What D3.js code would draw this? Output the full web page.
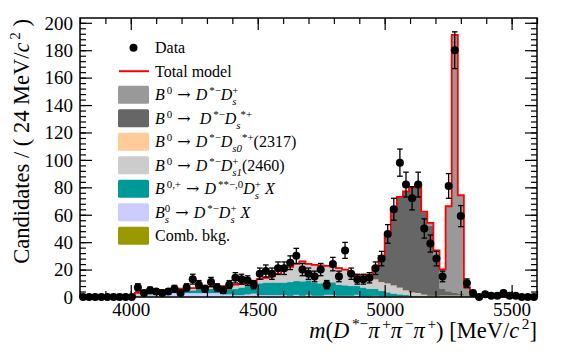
<!DOCTYPE html>
<html lang="en">
<head>
<meta charset="UTF-8">
<title>m(D*- pi+ pi- pi+) fit</title>
<style>
  body { margin: 0; background: #fff; }
  svg { display: block; font-family: "Liberation Serif", "DejaVu Serif", serif; }
  text { fill: #000; }
</style>
</head>
<body>
<svg id="chart" width="565" height="353"></svg>
<script src="https://cdnjs.cloudflare.com/ajax/libs/d3/7.8.5/d3.min.js"></script>
<script>
'use strict';

// binning: 75 bins of 24 MeV from 3800 to 5600
const massLo = 3800, binWidth = 24, nBins = 75;
const xTicks = [4000, 4500, 5000, 5500];

// data counts per bin
const dataCounts = [
  0, 0, 0, 0, 0, 0, 0, 0, 0, 7, 3, 5, 4, 3, 4,
  6, 3, 7, 13, 9, 6, 11, 7, 5, 9, 14, 13, 12, 9, 17,
  19, 17, 21, 21, 25, 30, 20, 17, 15, 20, 9, 24, 15, 34, 17,
  13, 13, 14, 21, 28, 46, 64, 98, 82, 72, 82, 50, 39, 28, 15,
  81, 180, 59, 10, 3, 0, 2, 1, 1, 3, 1, 1, 0, 0, 0
];

// fit components (stacked, bottom first)
const combBkg = [
  0, 0, 0, 0, 0, 0, 0, 0, 0, 0, 0, 0, 0, 0, 0,
  0, 0, 0, 0, 0, 0, 0, 0, 0, 0, 0, 0, 0.5, 1, 0,
  0, 0, 0, 0, 0, 0.7, 0, 0.7, 0, 0, 0.7, 0.7, 0, 0, 0,
  0.7, 0, 0, 0.5, 0, 0, 0, 0, 0, 0, 0, 0, 0, 0, 0.7,
  0.7, 0.7, 0.7, 0, 0, 0.3, 0.3, 0.3, 0.3, 0.3, 0.3, 0.3, 0.3, 0.3, 0.3
];
const bsDstDsX = [
  0, 0, 0, 0, 0, 0, 0, 0, 0, 1, 1.5, 1.5, 2, 2, 3,
  3, 3, 3, 3, 3, 3, 3, 3, 2, 2, 1.5, 1.5, 1.5, 1.5, 1.5,
  1.5, 1.5, 1.5, 1.5, 1, 1, 1, 1, 1, 1, 1, 1, 1, 1, 1,
  1, 0.5, 0.5, 0.5, 0.5, 0.5, 0.5, 0.5, 0.5, 0.5, 0.5, 0.5, 0.5, 0.5, 0.5,
  0.5, 0.5, 0.5, 0.5, 0.5, 0, 0, 0, 0, 0, 0, 0, 0, 0, 0
];
const dssDsX = [
  0, 0, 0, 0, 0, 0, 0, 0, 0, 0, 0, 0.5, 0.5, 0.5, 1,
  1, 1.5, 2, 2, 2.5, 3, 3, 3, 3.5, 3.5, 4.5, 5.5, 6, 6.5, 8.5,
  9, 9, 9, 9, 10, 10, 10.5, 10.5, 9.5, 9, 8.5, 9, 8, 7.5, 7,
  6.5, 6.5, 5.5, 5, 4, 3, 2, 1.5, 1, 0.5, 0.5, 0, 0, 0, 0,
  0, 0, 0, 0, 0, 0, 0, 0, 0, 0, 0, 0, 0, 0, 0
];
const dstDs1 = [
  0, 0, 0, 0, 0, 0, 0, 0, 0, 2, 2.5, 2, 2, 2.5, 1,
  1.5, 1.5, 1, 1.5, 1.5, 1, 1.5, 2, 2.5, 3, 3, 2.5, 2, 2, 3,
  3.5, 4.5, 6.5, 9.5, 11, 12.5, 14.5, 12, 13, 13, 12.5, 11.5, 12, 11.5, 9,
  8, 8, 8, 6.5, 6, 6, 5.5, 4.5, 3, 2, 1.5, 1, 0.5, 0.5, 0,
  0, 0, 0, 0, 0, 0, 0, 0, 0, 0, 0, 0, 0, 0, 0
];
const dstDs0 = [
  0, 0, 0, 0, 0, 0, 0, 0, 0, 0, 0, 0, 0, 0, 0,
  0, 0, 0, 0, 0, 0, 0, 0, 0, 0, 0, 0, 0, 0, 0,
  0, 0, 0, 0, 0, 0, 0, 0, 0, 0, 0, 0, 0, 0, 0,
  0, 0, 0.3, 0.5, 0.5, 0.5, 0.5, 0.5, 0.5, 0.5, 0.5, 0.3, 0, 0, 0,
  0, 0, 0, 0, 0, 0, 0, 0, 0, 0, 0, 0, 0, 0, 0
];
const dstDsStar = [
  0, 0, 0, 0, 0, 0, 0, 0, 0, 0, 0, 0, 0, 0, 0,
  0, 0, 0, 0, 0, 0, 0, 0, 0, 0, 0, 0, 0, 0, 0,
  0, 0, 0, 0, 0, 0, 0, 0, 0, 0, 0, 0, 0, 0, 0,
  0, 0, 2, 9, 19, 35, 56.5, 66, 72, 76.5, 79, 60, 51, 28, 5,
  3, 2, 1, 0, 0, 0, 0, 0, 0, 0, 0, 0, 0, 0, 0
];
const dstDs = [
  0, 0, 0, 0, 0, 0, 0, 0, 0, 0, 0, 0, 0, 0, 0,
  0, 0, 0, 0, 0, 0, 0, 0, 0, 0, 0, 0, 0, 0, 0,
  0, 0, 0, 0, 0, 0, 0, 0, 0, 0, 0, 0, 0, 0, 0,
  0, 0, 0, 0, 0, 0, 0, 0, 0, 0, 0, 0.5, 2, 5, 14,
  62, 188, 72, 6.5, 1.5, 0, 0, 0, 0, 0, 0, 0, 0, 0, 0
];

const keys = ["comb", "bsx", "dssx", "ds1", "ds0", "dsst", "ds"];
const colors = {
  comb: "#999900", bsx: "#ccccff", dssx: "#009999", ds1: "#cccccc",
  ds0: "#ffcc99", dsst: "#666666", ds: "#999999"
};

const svg = d3.select("#chart");
const x = d3.scaleLinear().domain([massLo, massLo + nBins * binWidth]).range([80, 537]);
const y = d3.scaleLinear().domain([0, 203.5]).range([297, 18]);

const rows = d3.range(nBins).map(i => ({
  i,
  comb: combBkg[i], bsx: bsDstDsX[i], dssx: dssDsX[i], ds1: dstDs1[i],
  ds0: dstDs0[i], dsst: dstDsStar[i], ds: dstDs[i]
}));
const layers = d3.stack().keys(keys)(rows);

// turn a layer into step points at the bin edges
function steps(layer) {
  const out = [];
  layer.forEach((d, i) => {
    const lo = massLo + i * binWidth;
    out.push({ m: lo, y0: d[0], y1: d[1] });
    out.push({ m: lo + binWidth, y0: d[0], y1: d[1] });
  });
  return out;
}

const area = d3.area().x(d => x(d.m)).y0(d => y(d.y0)).y1(d => y(d.y1));

svg.append("g").selectAll("path")
  .data(layers)
  .join("path")
  .attr("d", l => area(steps(l)))
  .attr("fill", l => colors[l.key])
  .attr("stroke", l => colors[l.key])
  .attr("stroke-width", 0.3);

// total model outline
const topPts = steps(layers[layers.length - 1]);
const totalPts = [{ m: massLo, y1: 0 }, ...topPts, { m: massLo + nBins * binWidth, y1: 0 }];
svg.append("path")
  .attr("d", d3.line().x(d => x(d.m)).y(d => y(d.y1))(totalPts))
  .attr("fill", "none")
  .attr("stroke", "#ff0000")
  .attr("stroke-width", 1.8);

// data points
const pts = dataCounts.map((v, i) => ({ m: massLo + (i + 0.5) * binWidth, v }));
const gData = svg.append("g");
const withErr = pts.filter(d => d.v > 0);
gData.selectAll("line.err")
  .data(withErr)
  .join("line")
  .attr("class", "err")
  .attr("x1", d => x(d.m)).attr("x2", d => x(d.m))
  .attr("y1", d => y(d.v - Math.sqrt(d.v))).attr("y2", d => y(d.v + Math.sqrt(d.v)))
  .attr("stroke", "#000").attr("stroke-width", 1.3);
["lo", "hi"].forEach(side => {
  gData.selectAll("line.cap" + side)
    .data(withErr)
    .join("line")
    .attr("class", "cap" + side)
    .attr("x1", d => x(d.m) - 2.8).attr("x2", d => x(d.m) + 2.8)
    .attr("y1", d => y(side === "lo" ? d.v - Math.sqrt(d.v) : d.v + Math.sqrt(d.v)))
    .attr("y2", d => y(side === "lo" ? d.v - Math.sqrt(d.v) : d.v + Math.sqrt(d.v)))
    .attr("stroke", "#000").attr("stroke-width", 1.3);
});
gData.selectAll("circle")
  .data(pts)
  .join("circle")
  .attr("cx", d => x(d.m)).attr("cy", d => y(d.v))
  .attr("r", 4).attr("fill", "#000");

// axes, ROOT style with ticks inside the frame
function tidy(g) {
  g.attr("font-family", null).attr("font-size", null);
  g.select(".domain").remove();
  g.selectAll(".tick line").attr("stroke", "#000").attr("stroke-width", 1.2);
}
const xMinor = d3.range(3800, 5601, 100);
const yMajor = d3.range(0, 201, 20);
const yMinor = d3.range(0, 204, 4);

svg.append("g").attr("transform", "translate(0,297)")
  .call(d3.axisBottom(x).tickValues(xMinor).tickSize(-6).tickFormat("")).call(tidy);
const gx = svg.append("g").attr("transform", "translate(0,297)")
  .call(d3.axisBottom(x).tickValues(xTicks).tickSize(-12).tickFormat(d3.format("d"))).call(tidy);
gx.selectAll(".tick text").attr("y", 19).attr("dy", null).attr("font-size", 19);

svg.append("g").attr("transform", "translate(0,18)")
  .call(d3.axisTop(x).tickValues(xMinor).tickSize(-6).tickFormat("")).call(tidy);
svg.append("g").attr("transform", "translate(0,18)")
  .call(d3.axisTop(x).tickValues(xTicks).tickSize(-12).tickFormat("")).call(tidy);

svg.append("g").attr("transform", "translate(80,0)")
  .call(d3.axisLeft(y).tickValues(yMinor).tickSize(-6).tickFormat("")).call(tidy);
const gy = svg.append("g").attr("transform", "translate(80,0)")
  .call(d3.axisLeft(y).tickValues(yMajor).tickSize(-12).tickFormat(d3.format("d"))).call(tidy);
gy.selectAll(".tick text").attr("x", -7).attr("dy", "0.33em").attr("font-size", 19);

svg.append("g").attr("transform", "translate(537,0)")
  .call(d3.axisRight(y).tickValues(yMinor).tickSize(-6).tickFormat("")).call(tidy);
svg.append("g").attr("transform", "translate(537,0)")
  .call(d3.axisRight(y).tickValues(yMajor).tickSize(-12).tickFormat("")).call(tidy);

svg.append("rect")
  .attr("x", 80).attr("y", 18).attr("width", 457).attr("height", 279)
  .attr("fill", "none").attr("stroke", "#000").attr("stroke-width", 1.5);

// text with italics, superscripts and subscripts
const N = t => ({ t }), I = t => ({ t, i: true });
const SUP = (t, i) => ({ t, v: 1, i });
const SUB = (t, i) => ({ t, v: -1, i });
const SUBH = (t, i) => ({ t, v: -1, i, h: true }); // sub stacked under next sup
const ARROW = { t: "\u00a0\u2192\u00a0", arrow: true };

function richText(g, parts, fs) {
  let cx = 0, hold = 0;
  parts.forEach((p, k) => {
    const prev = parts[k - 1];
    // italic letters lean right, leave room before a raised index
    if (p.v === 1 && prev && prev.i && !prev.v) cx += 0.12 * fs;
    const t = g.append("text")
      .attr("x", cx)
      .attr("y", p.v === 1 ? -0.38 * fs : p.v === -1 ? 0.3 * fs : 0)
      .attr("font-size", p.v ? 0.68 * fs : fs)
      .attr("font-style", p.i ? "italic" : null)
      .attr("font-family", p.arrow ? "DejaVu Serif" : null)
      .text(p.t);
    const w = t.node().getComputedTextLength();
    if (p.h) hold = w;
    else { cx += Math.max(w, hold); hold = 0; }
  });
  return cx;
}

const nb = "\u00a0";
const gxt = svg.append("g");
const xtW = richText(gxt, [
  I("m"), N("("), I("D"), SUP("*−"), I("π"), SUP("+"), I("π"), SUP("−"), I("π"), SUP("+"),
  N(")" + nb + "[MeV/"), I("c"), SUP("2"), N("]")
], 22.5);
gxt.attr("transform", `translate(${537 - xtW},338)`);

const gyt = svg.append("g");
const ytW = richText(gyt, [N("Candidates / ( 24 MeV/"), I("c"), SUP("2"), N(nb + ")")], 22.5);
gyt.attr("transform", `translate(29,${19 + ytW}) rotate(-90)`);

// legend
const legendRows = d3.range(9).map(k => 47.7 + k * 23.5);
const legendItems = [
  { type: "data", parts: [N("Data")] },
  { type: "line", parts: [N("Total model")] },
  { type: "box", key: "ds", parts: [I("B"), SUP("0"), ARROW, I("D"), SUP("*−"), I("D"), SUBH("s", true), SUP("+")] },
  { type: "box", key: "dsst", parts: [I("B"), SUP("0"), ARROW, N(nb), I("D"), SUP("*−"), I("D"), SUB("s", true), SUP("*+")] },
  { type: "box", key: "ds0", parts: [I("B"), SUP("0"), ARROW, I("D"), SUP("*−"), I("D"), SUB("s0", true), SUP("*+"), N("(2317)")] },
  { type: "box", key: "ds1", parts: [I("B"), SUP("0"), ARROW, I("D"), SUP("*−"), I("D"), SUBH("s1", true), SUP("+"), N("(2460)")] },
  { type: "box", key: "dssx", parts: [I("B"), SUP("0,+"), ARROW, I("D"), SUP("**−,0"), I("D"), SUBH("s", true), SUP("+"), N(nb), I("X")] },
  { type: "box", key: "bsx", parts: [I("B"), SUBH("s", true), SUP("0"), ARROW, I("D"), SUP("*−"), I("D"), SUBH("s", true), SUP("+"), N(nb), I("X")] },
  { type: "box", key: "comb", parts: [N("Comb. bkg.")] }
];
const gLeg = svg.append("g");
legendItems.forEach((it, k) => {
  const cy = legendRows[k];
  if (it.type === "data") {
    gLeg.append("circle").attr("cx", 133.5).attr("cy", cy).attr("r", 4).attr("fill", "#000");
  } else if (it.type === "line") {
    gLeg.append("line").attr("x1", 119).attr("x2", 149).attr("y1", cy).attr("y2", cy)
      .attr("stroke", "#ff0000").attr("stroke-width", 2);
  } else {
    gLeg.append("rect").attr("x", 118).attr("y", cy - 9).attr("width", 31).attr("height", 18)
      .attr("rx", 1.5).attr("fill", colors[it.key]);
  }
  const gt = gLeg.append("g").attr("transform", `translate(155,${cy + 5.6})`);
  richText(gt, it.parts, 16);
});
</script>
</body>
</html>
